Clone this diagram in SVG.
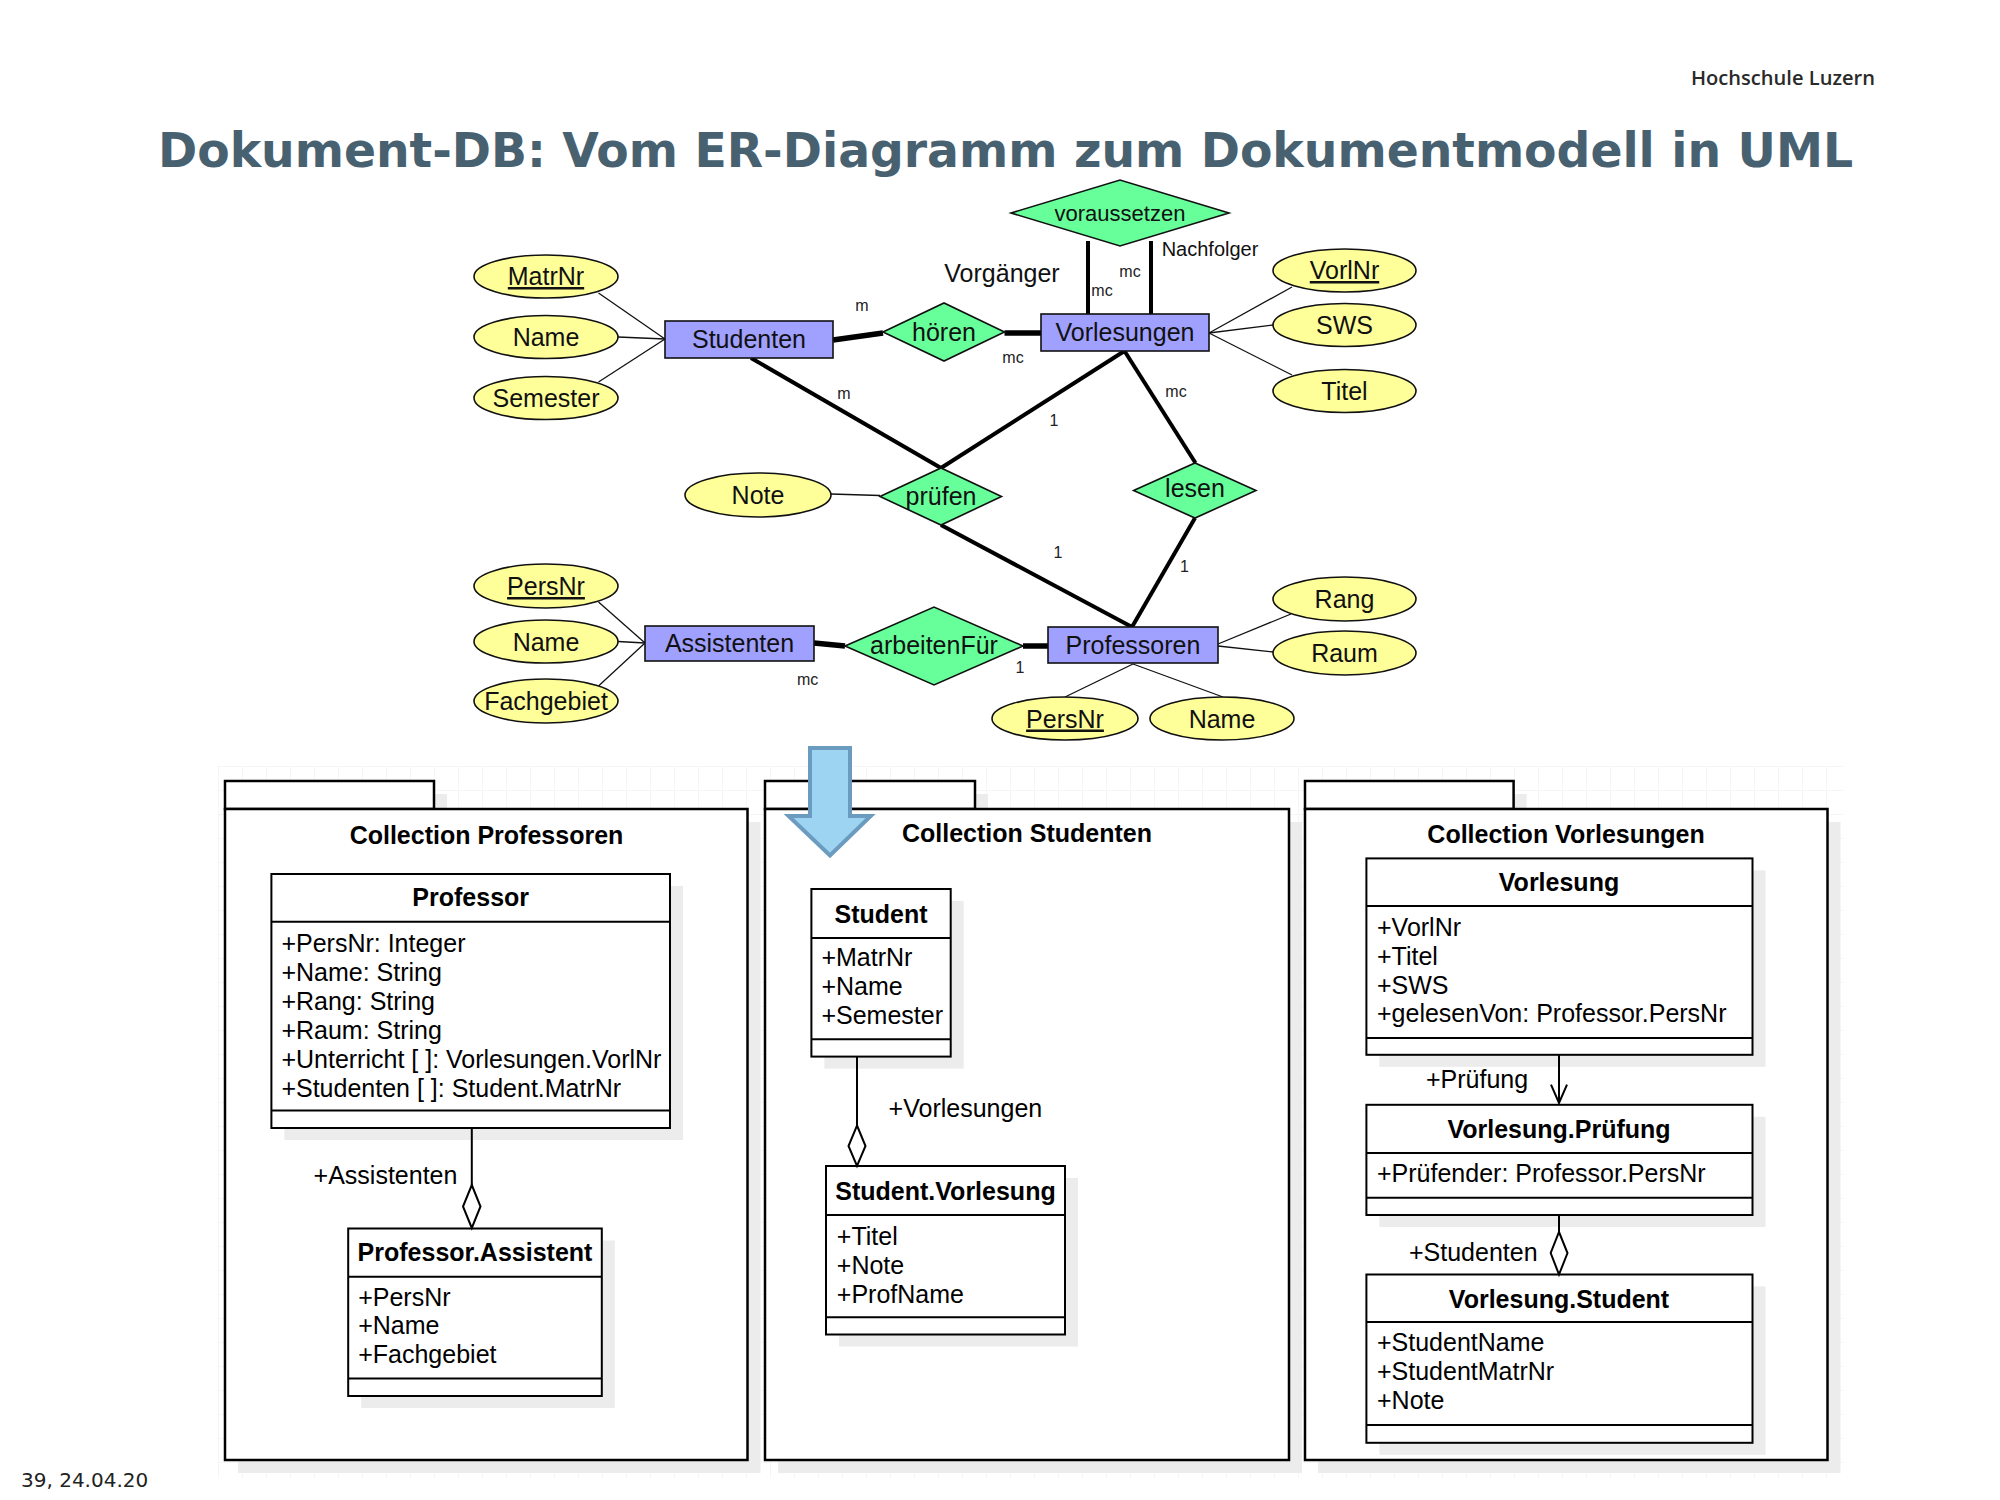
<svg xmlns="http://www.w3.org/2000/svg" width="2000" height="1500" viewBox="0 0 2000 1500">
<defs>
<pattern id="grid" x="218" y="766" width="24" height="24" patternUnits="userSpaceOnUse">
<path d="M24 0 L0 0 L0 24" fill="none" stroke="#eeeeee" stroke-width="1"/>
</pattern>
<style>
.ell{fill:#ffff99;stroke:#111;stroke-width:1.6}
.ent{fill:#a0a0ff;stroke:#111;stroke-width:1.6}
.rel{fill:#66ff99;stroke:#111;stroke-width:1.6}
.er{font-family:"Liberation Sans",Arial,sans-serif;font-size:25px;fill:#111;text-anchor:middle}
.sm{font-family:"Liberation Sans",Arial,sans-serif;font-size:16px;fill:#222;text-anchor:middle}
.thin{stroke:#111;stroke-width:1.3;fill:none}
.thick{stroke:#000;stroke-width:4;fill:none}
.thicker{stroke:#000;stroke-width:5.5;fill:none}
.pkg{fill:#fff;stroke:#000;stroke-width:2.5}
.cls{fill:#fff;stroke:#000;stroke-width:2}
.sh{fill:#ececec}
.sep{stroke:#000;stroke-width:2}
.ct{font-family:"Liberation Sans",Arial,sans-serif;font-size:25px;font-weight:bold;fill:#000;text-anchor:middle}
.at{font-family:"Liberation Sans",Arial,sans-serif;font-size:25px;fill:#000}
.con{stroke:#000;stroke-width:2;fill:none}
.dia{stroke:#000;stroke-width:2;fill:#fff}
</style>
</defs>
<rect width="2000" height="1500" fill="#fff"/>

<!-- header -->
<g id="header">
<text x="1875" y="85" font-family="'Open Sans','Liberation Sans',sans-serif" font-size="20" font-weight="600" fill="#2a2a2a" text-anchor="end" textLength="184" lengthAdjust="spacingAndGlyphs">Hochschule Luzern</text>
<text x="158" y="167" font-family="'DejaVu Sans',sans-serif" font-size="48" font-weight="bold" fill="#486170" textLength="1695" lengthAdjust="spacingAndGlyphs">Dokument-DB: Vom ER-Diagramm zum Dokumentmodell in UML</text>
<text x="21" y="1487" font-family="'DejaVu Sans',sans-serif" font-size="20" fill="#222">39, 24.04.20</text>
</g>

<!-- grid background -->
<rect x="218" y="766" width="1626" height="712" fill="url(#grid)"/>

<!-- ER connectors -->
<g id="er-connectors">
<line class="thin" x1="598.5" y1="293" x2="665" y2="339"/>
<line class="thin" x1="618" y1="337" x2="665" y2="339"/>
<line class="thin" x1="598.5" y1="382" x2="665" y2="339"/>
<line class="thin" x1="1292" y1="287" x2="1209" y2="333"/>
<line class="thin" x1="1273" y1="325" x2="1209" y2="333"/>
<line class="thin" x1="1292" y1="375" x2="1209" y2="333"/>
<line class="thin" x1="830.6" y1="494" x2="880" y2="495.5"/>
<line class="thin" x1="598.5" y1="602" x2="645" y2="643"/>
<line class="thin" x1="618" y1="641.5" x2="645" y2="643"/>
<line class="thin" x1="598.5" y1="686" x2="645" y2="643"/>
<line class="thin" x1="1291" y1="614" x2="1218" y2="644"/>
<line class="thin" x1="1273" y1="652" x2="1218" y2="646"/>
<line class="thin" x1="1065" y1="697" x2="1133" y2="664"/>
<line class="thin" x1="1223" y1="697" x2="1133" y2="664"/>
<line class="thicker" x1="833" y1="340" x2="883" y2="333"/>
<line class="thicker" x1="1004.5" y1="333" x2="1041" y2="333"/>
<line class="thick" x1="1088" y1="241" x2="1088" y2="314"/>
<line class="thick" x1="1151" y1="241" x2="1151" y2="314"/>
<line class="thick" x1="751" y1="358" x2="941" y2="468"/>
<line class="thick" x1="1124.5" y1="351" x2="941" y2="468"/>
<line class="thick" x1="1124.5" y1="351" x2="1195.5" y2="463"/>
<line class="thick" x1="941" y1="525" x2="1132" y2="627"/>
<line class="thick" x1="1195" y1="518" x2="1132" y2="627"/>
<line class="thicker" x1="814" y1="643" x2="845" y2="646"/>
<line class="thicker" x1="1023" y1="646" x2="1048" y2="646"/>
</g>

<!-- ER labels -->
<g id="er-labels">
<text class="er" x="1002" y="282">Vorgänger</text>
<text class="er" x="1210" y="256" style="font-size:20px">Nachfolger</text>
<text class="sm" x="1130" y="277">mc</text>
<text class="sm" x="1102" y="296">mc</text>
<text class="sm" x="862" y="311">m</text>
<text class="sm" x="1013" y="363">mc</text>
<text class="sm" x="844" y="399">m</text>
<text class="sm" x="1054" y="426">1</text>
<text class="sm" x="1176" y="397">mc</text>
<text class="sm" x="1058" y="558">1</text>
<text class="sm" x="1184.5" y="572">1</text>
<text class="sm" x="807.6" y="685">mc</text>
<text class="sm" x="1020" y="673">1</text>
</g>

<!-- ER attributes -->
<g id="attr-matrnr"><ellipse class="ell" cx="546" cy="276.5" rx="72" ry="21.5"/><text class="er" x="546" y="285" text-decoration="underline">MatrNr</text></g>
<g id="attr-stud-name"><ellipse class="ell" cx="546" cy="337" rx="72" ry="21.5"/><text class="er" x="546" y="346">Name</text></g>
<g id="attr-semester"><ellipse class="ell" cx="546" cy="398" rx="72" ry="21.5"/><text class="er" x="546" y="407">Semester</text></g>
<g id="attr-vorlnr"><ellipse class="ell" cx="1344.5" cy="270.5" rx="71.5" ry="21.5"/><text class="er" x="1344.5" y="279" text-decoration="underline">VorlNr</text></g>
<g id="attr-sws"><ellipse class="ell" cx="1344.5" cy="325" rx="71.5" ry="21.5"/><text class="er" x="1344.5" y="334">SWS</text></g>
<g id="attr-titel"><ellipse class="ell" cx="1344.5" cy="391" rx="71.5" ry="21.5"/><text class="er" x="1344.5" y="400">Titel</text></g>
<g id="attr-note"><ellipse class="ell" cx="758" cy="495" rx="73" ry="22"/><text class="er" x="758" y="504">Note</text></g>
<g id="attr-ass-persnr"><ellipse class="ell" cx="546" cy="586" rx="72" ry="22"/><text class="er" x="546" y="595" text-decoration="underline">PersNr</text></g>
<g id="attr-ass-name"><ellipse class="ell" cx="546" cy="641.5" rx="72" ry="21.5"/><text class="er" x="546" y="650.5">Name</text></g>
<g id="attr-fachgebiet"><ellipse class="ell" cx="546" cy="701" rx="72" ry="22"/><text class="er" x="546" y="710">Fachgebiet</text></g>
<g id="attr-rang"><ellipse class="ell" cx="1344.5" cy="599" rx="71.5" ry="22"/><text class="er" x="1344.5" y="608">Rang</text></g>
<g id="attr-raum"><ellipse class="ell" cx="1344.5" cy="653" rx="71.5" ry="22"/><text class="er" x="1344.5" y="662">Raum</text></g>
<g id="attr-prof-persnr"><ellipse class="ell" cx="1065" cy="718.5" rx="73" ry="21.5"/><text class="er" x="1065" y="727.5" text-decoration="underline">PersNr</text></g>
<g id="attr-prof-name"><ellipse class="ell" cx="1222" cy="718.5" rx="72" ry="21.5"/><text class="er" x="1222" y="727.5">Name</text></g>

<!-- ER entities -->
<g id="ent-studenten"><rect class="ent" x="665" y="321" width="168" height="37"/><text class="er" x="749" y="348">Studenten</text></g>
<g id="ent-vorlesungen"><rect class="ent" x="1041" y="314" width="168" height="37"/><text class="er" x="1125" y="341">Vorlesungen</text></g>
<g id="ent-assistenten"><rect class="ent" x="645" y="626" width="169" height="35"/><text class="er" x="729.5" y="652">Assistenten</text></g>
<g id="ent-professoren"><rect class="ent" x="1048" y="627" width="170" height="36"/><text class="er" x="1133" y="654">Professoren</text></g>

<!-- ER relationships -->
<g id="rel-voraussetzen"><polygon class="rel" points="1011,213 1120,180 1229,213 1120,246"/><text class="er" x="1120" y="221" style="font-size:22px">voraussetzen</text></g>
<g id="rel-hoeren"><polygon class="rel" points="883,332 944,303 1004.5,332 944,361"/><text class="er" x="944" y="341">hören</text></g>
<g id="rel-pruefen"><polygon class="rel" points="880,496.5 941,468 1001.5,496.5 941,525"/><text class="er" x="941" y="505">prüfen</text></g>
<g id="rel-lesen"><polygon class="rel" points="1133.6,490.5 1195,463 1256,490.5 1195,518"/><text class="er" x="1195" y="497">lesen</text></g>
<g id="rel-arbeitenfuer"><polygon class="rel" points="845,646 934,607 1023,646 934,685"/><text class="er" x="934" y="654">arbeitenFür</text></g>

<!-- UML packages -->
<g id="pkg-professoren">
<rect class="sh" x="238" y="794" width="209" height="28"/>
<rect class="sh" x="238" y="822" width="522.5" height="651"/>
<rect class="pkg" x="225" y="781" width="209" height="28"/>
<rect class="pkg" x="225" y="809" width="522.5" height="651"/>
<text class="ct" x="486.5" y="843.7">Collection Professoren</text>
</g>
<g id="pkg-studenten">
<rect class="sh" x="778" y="794" width="210" height="28"/>
<rect class="sh" x="778" y="822" width="524" height="651"/>
<rect class="pkg" x="765" y="781" width="210" height="28"/>
<rect class="pkg" x="765" y="809" width="524" height="651"/>
<text class="ct" x="1027" y="842.4">Collection Studenten</text>
</g>
<g id="pkg-vorlesungen">
<rect class="sh" x="1318" y="794" width="208.6" height="28"/>
<rect class="sh" x="1318" y="822" width="522.5" height="651"/>
<rect class="pkg" x="1305" y="781" width="208.6" height="28"/>
<rect class="pkg" x="1305" y="809" width="522.5" height="651"/>
<text class="ct" x="1566" y="842.8">Collection Vorlesungen</text>
</g>

<!-- UML classes -->
<g id="cls-professor">
<rect class="sh" x="284.4" y="886" width="398.6" height="254"/>
<rect class="cls" x="271.4" y="874" width="398.6" height="254"/>
<line class="sep" x1="271.4" y1="921.8" x2="670" y2="921.8"/>
<line class="sep" x1="271.4" y1="1110.6" x2="670" y2="1110.6"/>
<text class="ct" x="470.7" y="906">Professor</text>
<text class="at" x="281.4" y="951.5">+PersNr: Integer</text>
<text class="at" x="281.4" y="980.5">+Name: String</text>
<text class="at" x="281.4" y="1009.5">+Rang: String</text>
<text class="at" x="281.4" y="1038.5">+Raum: String</text>
<text class="at" x="281.4" y="1067.5">+Unterricht [ ]: Vorlesungen.VorlNr</text>
<text class="at" x="281.4" y="1096.5">+Studenten [ ]: Student.MatrNr</text>
</g>
<g id="cls-professor-assistent">
<rect class="sh" x="361.2" y="1240.5" width="253.6" height="167.5"/>
<rect class="cls" x="348.2" y="1228.5" width="253.6" height="167.5"/>
<line class="sep" x1="348.2" y1="1276.7" x2="601.8" y2="1276.7"/>
<line class="sep" x1="348.2" y1="1378.5" x2="601.8" y2="1378.5"/>
<text class="ct" x="475" y="1261">Professor.Assistent</text>
<text class="at" x="358.2" y="1305.5">+PersNr</text>
<text class="at" x="358.2" y="1334.3">+Name</text>
<text class="at" x="358.2" y="1363">+Fachgebiet</text>
</g>
<g id="cls-student">
<rect class="sh" x="824.4" y="901" width="139.3" height="167.6"/>
<rect class="cls" x="811.4" y="889" width="139.3" height="167.6"/>
<line class="sep" x1="811.4" y1="937.9" x2="950.7" y2="937.9"/>
<line class="sep" x1="811.4" y1="1039.3" x2="950.7" y2="1039.3"/>
<text class="ct" x="881" y="922.5">Student</text>
<text class="at" x="821.4" y="966">+MatrNr</text>
<text class="at" x="821.4" y="995.2">+Name</text>
<text class="at" x="821.4" y="1024.2">+Semester</text>
</g>
<g id="cls-student-vorlesung">
<rect class="sh" x="839" y="1178" width="239" height="168.5"/>
<rect class="cls" x="826" y="1166" width="239" height="168.5"/>
<line class="sep" x1="826" y1="1214.9" x2="1065" y2="1214.9"/>
<line class="sep" x1="826" y1="1317.3" x2="1065" y2="1317.3"/>
<text class="ct" x="945.5" y="1200">Student.Vorlesung</text>
<text class="at" x="836.8" y="1244.5">+Titel</text>
<text class="at" x="836.8" y="1273.5">+Note</text>
<text class="at" x="836.8" y="1302.5">+ProfName</text>
</g>
<g id="cls-vorlesung">
<rect class="sh" x="1379.4" y="870.4" width="386.1" height="196.4"/>
<rect class="cls" x="1366.4" y="858.4" width="386.1" height="196.4"/>
<line class="sep" x1="1366.4" y1="906" x2="1752.5" y2="906"/>
<line class="sep" x1="1366.4" y1="1037.9" x2="1752.5" y2="1037.9"/>
<text class="ct" x="1559" y="891.4">Vorlesung</text>
<text class="at" x="1377" y="935.5">+VorlNr</text>
<text class="at" x="1377" y="964.5">+Titel</text>
<text class="at" x="1377" y="993.5">+SWS</text>
<text class="at" x="1377" y="1022">+gelesenVon: Professor.PersNr</text>
</g>
<g id="cls-vorlesung-pruefung">
<rect class="sh" x="1379.4" y="1116.8" width="386.1" height="110.2"/>
<rect class="cls" x="1366.4" y="1104.8" width="386.1" height="110.2"/>
<line class="sep" x1="1366.4" y1="1153" x2="1752.5" y2="1153"/>
<line class="sep" x1="1366.4" y1="1197.7" x2="1752.5" y2="1197.7"/>
<text class="ct" x="1559" y="1138.3">Vorlesung.Prüfung</text>
<text class="at" x="1377" y="1182">+Prüfender: Professor.PersNr</text>
</g>
<g id="cls-vorlesung-student">
<rect class="sh" x="1379.4" y="1286.5" width="386.1" height="168.3"/>
<rect class="cls" x="1366.4" y="1274.5" width="386.1" height="168.3"/>
<line class="sep" x1="1366.4" y1="1322" x2="1752.5" y2="1322"/>
<line class="sep" x1="1366.4" y1="1424.9" x2="1752.5" y2="1424.9"/>
<text class="ct" x="1559" y="1308">Vorlesung.Student</text>
<text class="at" x="1377" y="1350.5">+StudentName</text>
<text class="at" x="1377" y="1379.5">+StudentMatrNr</text>
<text class="at" x="1377" y="1408.5">+Note</text>
</g>

<!-- UML connectors -->
<g id="uml-connectors">
<line class="con" x1="471.8" y1="1128" x2="471.8" y2="1185"/>
<polygon class="dia" points="471.8,1185 480.5,1206.5 471.8,1228 463,1206.5"/>
<text class="at" x="313.6" y="1183.5">+Assistenten</text>
<line class="con" x1="857" y1="1056.6" x2="857" y2="1125.5"/>
<polygon class="dia" points="857,1125.5 865.5,1146 857,1166 848.5,1146"/>
<text class="at" x="888.6" y="1116.5">+Vorlesungen</text>
<line class="con" x1="1559" y1="1054.8" x2="1559" y2="1102.6"/>
<polyline class="con" points="1551,1084.7 1559,1103 1567,1084.7"/>
<text class="at" x="1426" y="1087.5">+Prüfung</text>
<line class="con" x1="1559" y1="1215" x2="1559" y2="1232"/>
<polygon class="dia" points="1559,1232 1567.5,1253 1559,1274.5 1550.7,1253"/>
<text class="at" x="1409" y="1260.5">+Studenten</text>
</g>

<!-- transformation arrow -->
<g id="big-arrow">
<polygon points="810,748 850,748 850,816 870.7,816 830,855.5 788.6,816 810,816" fill="#9dd4f2" stroke="#6b9cc0" stroke-width="4" stroke-linejoin="miter"/>
</g>
</svg>
